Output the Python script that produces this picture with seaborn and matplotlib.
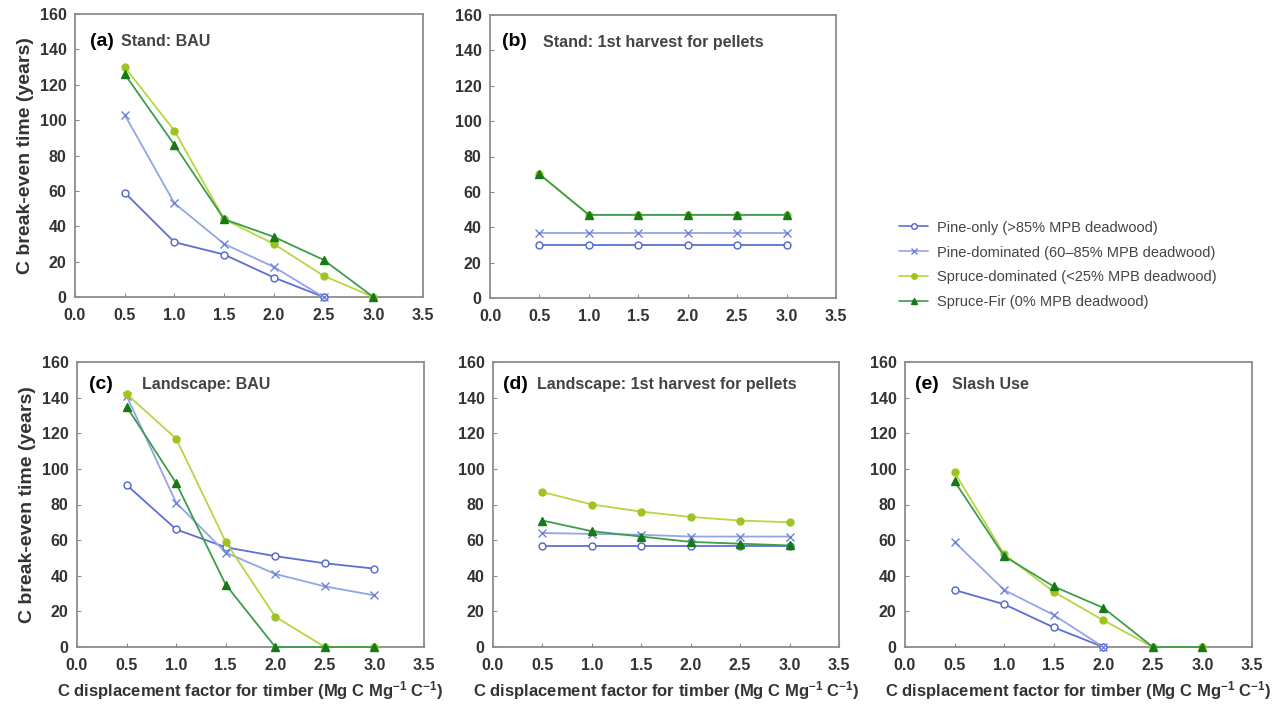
import numpy as np
import pandas as pd
import matplotlib
matplotlib.use("Agg")
import matplotlib.pyplot as plt
import seaborn as sns
from matplotlib.lines import Line2D

sns.set_theme(style="white")
plt.rcParams['font.family'] = ['Liberation Sans', 'DejaVu Sans']
plt.rcParams['mathtext.fontset'] = 'custom'
plt.rcParams['mathtext.rm'] = 'Liberation Sans:bold'
plt.rcParams['mathtext.default'] = 'rm'

# ---------------- data ----------------
x_vals = [0.5, 1.0, 1.5, 2.0, 2.5, 3.0]

series_names = [
    "Pine-only (>85% MPB deadwood)",
    "Pine-dominated (60\u201385% MPB deadwood)",
    "Spruce-dominated (<25% MPB deadwood)",
    "Spruce-Fir (0% MPB deadwood)",
]

# (a) Stand: BAU
a_pine_only = [59, 31, 24, 11, 0]
a_pine_dom = [103, 53, 30, 17, 0]
a_spruce_dom = [130, 94, 44, 30, 12, 0]
a_spruce_fir = [126, 86, 44, 34, 21, 0]

# (b) Stand: 1st harvest for pellets
b_pine_only = [30, 30, 30, 30, 30, 30]
b_pine_dom = [37, 37, 37, 37, 37, 37]
b_spruce_dom = [70, 47, 47, 47, 47, 47]
b_spruce_fir = [70, 47, 47, 47, 47, 47]

# (c) Landscape: BAU
c_pine_only = [91, 66, 56, 51, 47, 44]
c_pine_dom = [141, 81, 53, 41, 34, 29]
c_spruce_dom = [142, 117, 59, 17, 0, 0]
c_spruce_fir = [135, 92, 35, 0, 0, 0]

# (d) Landscape: 1st harvest for pellets
d_pine_only = [56.5, 56.5, 56.5, 56.5, 56.5, 56.5]
d_pine_dom = [64, 63.5, 63, 62, 62, 62]
d_spruce_dom = [87, 80, 76, 73, 71, 70]
d_spruce_fir = [71, 65, 62, 59, 58, 57]

# (e) Slash Use
e_pine_only = [32, 24, 11, 0]
e_pine_dom = [59, 32, 18, 0]
e_spruce_dom = [98, 52, 31, 15, 0, 0]
e_spruce_fir = [93, 51, 34, 22, 0, 0]

panel_letters = ["(a)", "(b)", "(c)", "(d)", "(e)"]
panel_titles = ["Stand: BAU", "Stand: 1st harvest for pellets", "Landscape: BAU",
                "Landscape: 1st harvest for pellets", "Slash Use"]
x_ticks = [0.0, 0.5, 1.0, 1.5, 2.0, 2.5, 3.0, 3.5]
y_ticks = [0, 20, 40, 60, 80, 100, 120, 140, 160]
y_label = "C break-even time (years)"
x_label = "C displacement factor for timber (Mg C Mg$^{-1}$ C$^{-1}$)"

panels = [
    [a_pine_only, a_pine_dom, a_spruce_dom, a_spruce_fir],
    [b_pine_only, b_pine_dom, b_spruce_dom, b_spruce_fir],
    [c_pine_only, c_pine_dom, c_spruce_dom, c_spruce_fir],
    [d_pine_only, d_pine_dom, d_spruce_dom, d_spruce_fir],
    [e_pine_only, e_pine_dom, e_spruce_dom, e_spruce_fir],
]

# ---------------- styles ----------------
line_colors = ["#5d6fd0", "#93a5e6", "#b8d640", "#3f9c4c"]
marker_edge = ["#5165c8", "#6f82d8", "#9dc521", "#157a15"]
marker_face = ["white", "none", "#9dc521", "#157a15"]
markers = ["o", "x", "o", "^"]
msizes = [5, 6, 5, 6]

W, H = 1287, 708
fig = plt.figure(figsize=(W / 100, H / 100), dpi=100)

# axes boxes in pixels: left, right, top, bottom
boxes = [
    (75, 423, 14, 297),
    (490, 836, 15, 298),
    (77, 424, 362, 647),
    (493, 839, 362, 647),
    (905, 1252, 362, 647),
]
letter_pos = [(90, 42), (502, 42), (89, 385), (503, 385), (915, 385)]
title_pos = [(121, 42), (543, 42), (142, 385), (537, 385), (952, 385)]

tick_color = "#333333"
frame_color = "#8c8c8c"

for i, (l, r, t, b) in enumerate(boxes):
    ax = fig.add_axes([l / W, 1 - b / H, (r - l) / W, (b - t) / H])
    for j, ys in enumerate(panels[i]):
        xs = x_vals[:len(ys)]
        df = pd.DataFrame({"x": xs, "y": ys})
        sns.lineplot(data=df, x="x", y="y", ax=ax, color=line_colors[j], lw=1.3,
                     marker=markers[j], markersize=msizes[j],
                     markerfacecolor=marker_face[j], markeredgecolor=marker_edge[j],
                     markeredgewidth=1.0, zorder=3 + j, clip_on=False)
    ax.set_xlim(0, 3.5)
    ax.set_ylim(0, 160)
    ax.set_xticks(x_ticks)
    ax.set_xticklabels([f"{v:.1f}" for v in x_ticks])
    ax.set_yticks(y_ticks)
    ax.set_yticklabels([str(v) for v in y_ticks])
    ax.tick_params(axis="both", direction="in", length=3, width=0.8, color=frame_color,
                   labelsize=11.5, labelcolor=tick_color, bottom=True, left=True)
    ax.tick_params(axis="x", pad=8)
    ax.tick_params(axis="y", pad=6)
    for lab in ax.get_xticklabels() + ax.get_yticklabels():
        lab.set_fontweight("bold")
    for s in ax.spines.values():
        s.set_color(frame_color)
        s.set_linewidth(1.3)
    ax.set_xlabel("")
    ax.set_ylabel("")
    if i in (0, 2):
        ax.set_ylabel(y_label, fontsize=14, fontweight="bold", color="#333333", labelpad=4)
    if i >= 2:
        ax.set_xlabel(x_label, fontsize=12, fontweight="bold", color="#333333", labelpad=4)
    lx, ly = letter_pos[i]
    fig.text(lx / W, 1 - ly / H, panel_letters[i], fontsize=14, fontweight="bold",
             color="black", va="center", ha="left")
    tx, ty = title_pos[i]
    fig.text(tx / W, 1 - ty / H, panel_titles[i], fontsize=11.5, fontweight="bold",
             color="#444444", va="center", ha="left")

handles = [Line2D([0], [0], color=line_colors[j], lw=1.2, marker=markers[j],
                  markersize=msizes[j] - 1, markerfacecolor=marker_face[j],
                  markeredgecolor=marker_edge[j]) for j in range(4)]
fig.legend(handles, series_names, loc="center left",
           bbox_to_anchor=(886 / W, 1 - 265 / H), frameon=False, fontsize=10.5,
           labelcolor="#444444", handlelength=2.0, handletextpad=0.6, labelspacing=0.75)

fig.savefig("out.png", dpi=100)
